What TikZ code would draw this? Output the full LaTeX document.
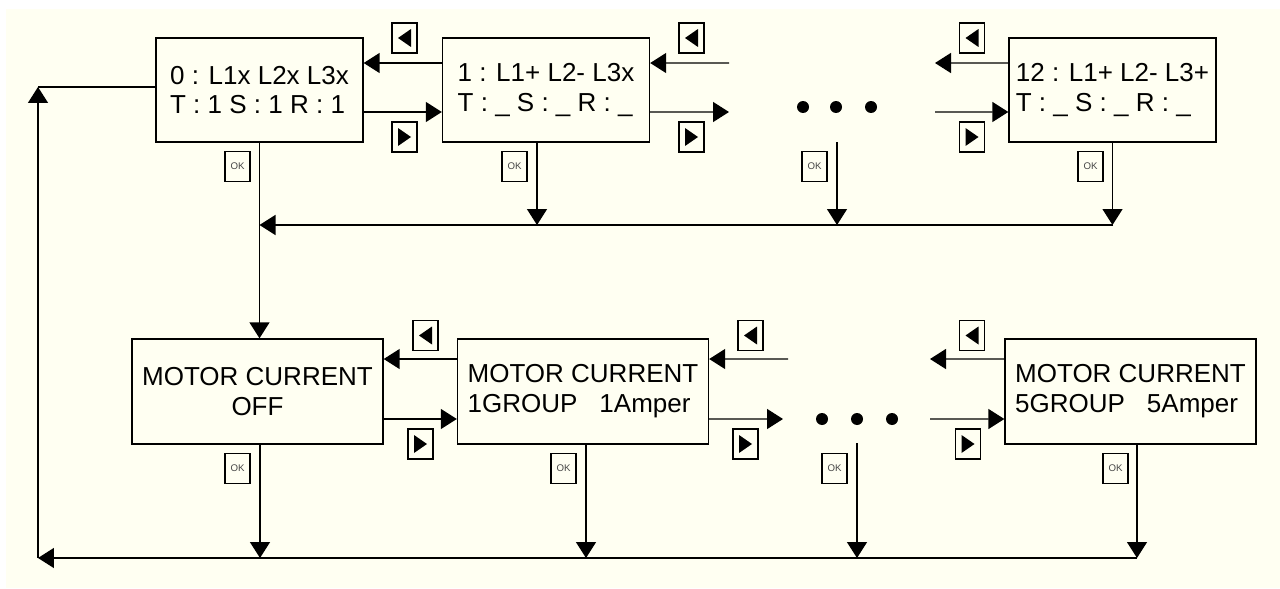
\documentclass[tikz,border=0pt]{standalone}
\usepackage{fontspec}
\setmainfont{Liberation Sans}
\usetikzlibrary{arrows.meta}
\definecolor{bgcream}{RGB}{255,255,242}
\definecolor{okgray}{RGB}{70,70,70}

\begin{document}
\begin{tikzpicture}[x=0.02cm,y=-0.02cm,
  flow/.style={line width=0.8pt,-{Triangle[length=3.2mm,width=4mm]}},
  wire/.style={line width=0.8pt},
  lcd/.style={draw,line width=0.8pt,inner sep=0pt,minimum width=4.14cm,minimum height=2.08cm,align=left,font=\fontsize{14.8}{17}\selectfont},
  motor/.style={lcd,minimum width=5.02cm,minimum height=2.1cm},
  key/.style={draw,line width=0.7pt,inner sep=0pt,minimum width=0.5cm,minimum height=0.6cm},
  keyl/.style={key,path picture={\fill ([xshift=-1.3mm]path picture bounding box.center) -- ++(2.6mm,1.8mm) -- ++(0,-3.6mm) -- cycle;}},
  keyr/.style={key,path picture={\fill ([xshift=1.3mm]path picture bounding box.center) -- ++(-2.6mm,1.8mm) -- ++(0,-3.6mm) -- cycle;}},
  okkey/.style={key,font=\fontsize{5.5}{6}\selectfont,text=okgray},
  dot/.style={circle,fill,inner sep=0pt,minimum size=2.4mm}]
  \useasboundingbox (0,0) rectangle (1280,588);
  \fill[bgcream] (6,9) rectangle (1280,588);

  % step display row
  \node[lcd] (s0) at (259.5,90) {0 : L1x L2x L3x\\T : 1 S : 1 R : 1};
  \node[lcd] (s1) at (546,90) {1 : L1+ L2- L3x\\T : \_ S : \_ R : \_};
  \node[lcd] (s12) at (1112.5,90) {12 : L1+ L2- L3+\\T : \_ S : \_ R : \_};
  \foreach \x [count=\i] in {803,836,871}
    \node[dot] (td\i) at (\x,107) {};

  \coordinate (s1l) at (729,63);
  \coordinate (s1r) at (729,112);
  \coordinate (s12l) at (935,63);
  \coordinate (s12r) at (935,112);

  \draw[flow] ([yshift=5.4mm]s1.west) -- ([yshift=5.4mm]s0.east);
  \draw[flow] ([yshift=-4.4mm]s0.east) -- ([yshift=-4.4mm]s1.west);
  \draw[flow] (s1l) -- ([yshift=5.4mm]s1.east);
  \draw[flow] ([yshift=-4.4mm]s1.east) -- (s1r);
  \draw[flow] ([yshift=5.4mm]s12.west) -- (s12l);
  \draw[flow] (s12r) -- ([yshift=-4.4mm]s12.west);

  \node[keyl] (kl0) at (404.5,38) {};
  \node[keyr] (kr0) at (404.5,137) {};
  \node[keyl] (kl1) at (691.5,38) {};
  \node[keyr] (kr1) at (691.5,137) {};
  \node[keyl] (kl12) at (972,38) {};
  \node[keyr] (kr12) at (972,137) {};

  \node[okkey] (ok0) at (237.5,166.5) {OK};
  \node[okkey] (ok1) at (514.5,166.5) {OK};
  \node[okkey] (okd) at (814.5,166.5) {OK};
  \node[okkey] (ok12) at (1090.5,166.5) {OK};

  % motor current row
  \node[motor,align=center] (m0) at (257.5,391.5) {MOTOR CURRENT\\OFF};
  \node[motor] (m1) at (583,391.5) {MOTOR CURRENT\\1GROUP\hspace{4.4mm}1Amper};
  \node[motor] (m5) at (1130.5,391.5) {MOTOR CURRENT\\5GROUP\hspace{4.4mm}5Amper};
  \foreach \x [count=\i] in {822,857,892}
    \node[dot] (bd\i) at (\x,419) {};

  \coordinate (m1l) at (788,359);
  \coordinate (m1r) at (783,419);
  \coordinate (m5l) at (930,359);
  \coordinate (m5r) at (930,419);

  \draw[flow] ([yshift=6.5mm]m1.west) -- ([yshift=6.5mm]m0.east);
  \draw[flow] ([yshift=-5.5mm]m0.east) -- ([yshift=-5.5mm]m1.west);
  \draw[flow] (m1l) -- ([yshift=6.5mm]m1.east);
  \draw[flow] ([yshift=-5.5mm]m1.east) -- (m1r);
  \draw[flow] ([yshift=6.5mm]m5.west) -- (m5l);
  \draw[flow] (m5r) -- ([yshift=-5.5mm]m5.west);

  \node[keyl] (kla) at (425.5,335.5) {};
  \node[keyr] (kra) at (420.5,444) {};
  \node[keyl] (klb) at (750.5,335.5) {};
  \node[keyr] (krb) at (745.5,444) {};
  \node[keyl] (klc) at (972,335.5) {};
  \node[keyr] (krc) at (968,444) {};

  \node[okkey] (oka) at (237.5,468.5) {OK};
  \node[okkey] (okb) at (563.5,468.5) {OK};
  \node[okkey] (oke) at (834.5,468.5) {OK};
  \node[okkey] (okc) at (1115.5,468.5) {OK};

  % OK lines and buses
  \coordinate (tbus) at (1113,225);
  \coordinate (tdrop) at (837,142);
  \draw[flow] (s12.south) -- (s12.south |- tbus);
  \draw[flow] ([xshift=-1.8mm]s1.south) -- ([xshift=-1.8mm]s1.south |- tbus);
  \draw[flow] (tdrop) -- (tdrop |- tbus);
  \draw[flow] (tbus) -- (tbus -| s0.south);
  \draw[flow] (s0.south) -- (s0.south |- m0.north);

  \coordinate (bbus) at (1137,558);
  \coordinate (bdrop) at (857,443);
  \coordinate (loop) at (38,87);
  \draw[flow] ([xshift=0.5mm]m0.south) -- ([xshift=0.5mm]m0.south |- bbus);
  \draw[flow] ([xshift=0.6mm]m1.south) -- ([xshift=0.6mm]m1.south |- bbus);
  \draw[flow] (bdrop) -- (bdrop |- bbus);
  \draw[flow] ([xshift=1.3mm]m5.south) -- ([xshift=1.3mm]m5.south |- bbus);
  \draw[flow] (bbus) -- (bbus -| loop);
  \draw[flow] (bbus -| loop) -- (loop);
  \draw[wire] (loop -| s0.west) -- (loop);
\end{tikzpicture}
\end{document}
